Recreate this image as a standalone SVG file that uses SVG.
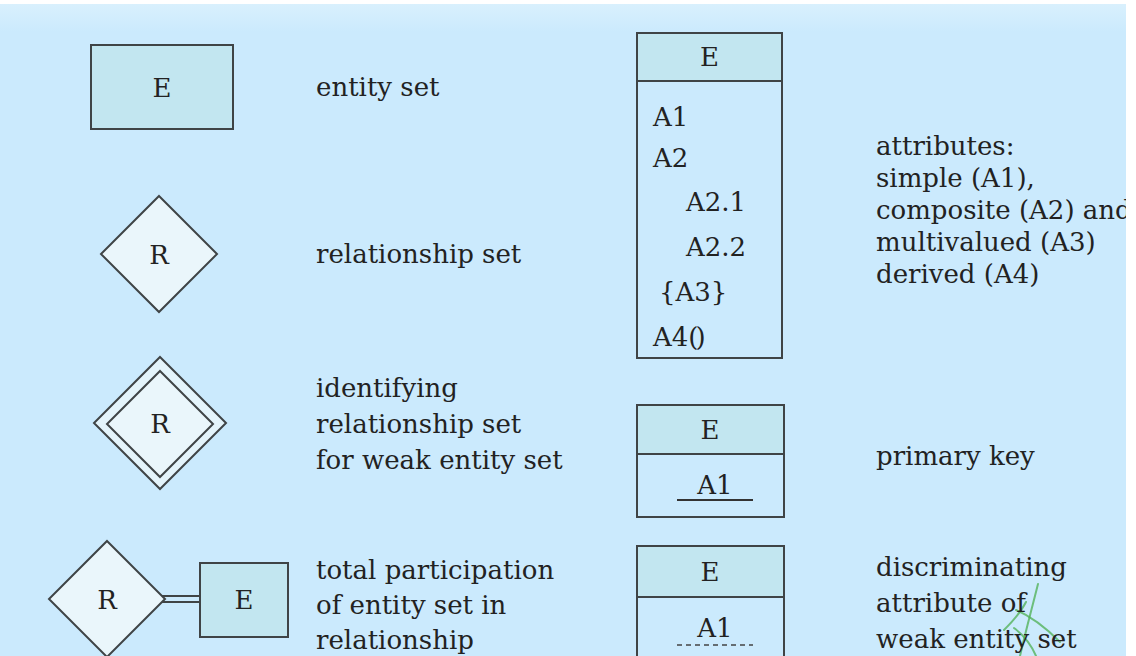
<svg xmlns="http://www.w3.org/2000/svg" width="1136" height="656" viewBox="0 0 1136 656">
<defs>
<linearGradient id="topband" x1="0" y1="0" x2="0" y2="1">
<stop offset="0" stop-color="#d9f0fd"/>
<stop offset="1" stop-color="#cbeafd"/>
</linearGradient>
<style>
text{font-family:"DejaVu Serif","Liberation Serif",serif;font-size:26px;fill:#222}
.c{text-anchor:middle}
.ent{fill:#c2e6f0;stroke:#3f4446;stroke-width:2}
.rel{fill:#eaf6fb;stroke:#3f4446;stroke-width:2;stroke-linejoin:miter}
.body{fill:#cbeafd;stroke:#3f4446;stroke-width:2}
.ln{stroke:#3f4446;stroke-width:1.8;fill:none}
</style>
</defs>
<rect x="0" y="0" width="1136" height="656" fill="#ffffff"/>
<rect x="0" y="4" width="1126" height="652" fill="#cbeafd"/>
<rect x="0" y="4" width="1126" height="28" fill="url(#topband)"/>

<g id="entity-set">
<rect class="ent" x="91" y="45" width="142" height="84"/>
<text class="c" x="162" y="97">E</text>
</g>
<text x="316" y="96">entity set</text>

<g id="relationship-set">
<polygon class="rel" points="159,196 217,254 159,312 101,254"/>
<text class="c" x="159" y="264">R</text>
</g>
<text x="316" y="263">relationship set</text>

<g id="identifying-relationship">
<polygon points="160,357 226,423 160,489 94,423" fill="#e4f4fb" stroke="#3f4446" stroke-width="2"/>
<polygon points="160,371 213,424 160,477 107,424" fill="#eaf6fb" stroke="#3f4446" stroke-width="2"/>
<text class="c" x="160" y="433">R</text>
</g>
<text x="316" y="397">identifying</text>
<text x="316" y="433">relationship set</text>
<text x="316" y="469">for weak entity set</text>

<g id="total-participation-R">
<polygon class="rel" points="107,541 165,599 107,657 49,599"/>
<text class="c" x="107" y="609">R</text>
</g>
<g id="total-participation-E">
<rect class="ent" x="200" y="563" width="88" height="74"/>
<text class="c" x="244" y="609">E</text>
</g>
<g id="connectors">
<line class="ln" x1="162" y1="596" x2="200" y2="596"/>
<line class="ln" x1="162" y1="602" x2="200" y2="602"/>
</g>
<text x="316" y="579">total participation</text>
<text x="316" y="614">of entity set in</text>
<text x="316" y="649">relationship</text>

<g id="attributes-entity">
<rect class="body" x="637" y="81" width="145" height="277"/>
<rect class="ent" x="637" y="33" width="145" height="48"/>
<text class="c" x="709.5" y="66">E</text>
<text x="653" y="126">A1</text>
<text x="653" y="167">A2</text>
<text x="686" y="211">A2.1</text>
<text x="686" y="256">A2.2</text>
<text x="659" y="301">{A3}</text>
<text x="653" y="346">A4<tspan letter-spacing="-3">()</tspan></text>
</g>
<text x="876" y="155">attributes:</text>
<text x="876" y="187">simple (A1),</text>
<text x="876" y="219">composite (A2) and</text>
<text x="876" y="251">multivalued (A3)</text>
<text x="876" y="283">derived (A4)</text>
<rect x="1126" y="0" width="10" height="656" fill="#ffffff"/>

<g id="primary-key-entity">
<rect class="body" x="637" y="454" width="147" height="63"/>
<rect class="ent" x="637" y="405" width="147" height="49"/>
<text class="c" x="710" y="439">E</text>
<text class="c" x="715" y="494">A1</text>
<line x1="677" y1="500" x2="753" y2="500" stroke="#333" stroke-width="2"/>
</g>
<text x="876" y="465">primary key</text>

<g id="discriminator-entity">
<rect class="body" x="637" y="597" width="147" height="70"/>
<rect class="ent" x="637" y="546" width="147" height="51"/>
<text class="c" x="710" y="581">E</text>
<text class="c" x="715" y="637">A1</text>
<line x1="677" y1="645" x2="753" y2="645" stroke="#444" stroke-width="1.6" stroke-dasharray="5,4"/>
</g>
<g id="sprig" fill="none" stroke="#4caf50" stroke-opacity="0.75" stroke-width="2" stroke-linecap="round">
<path d="M1038,584 C1032,608 1026,630 1020,656"/>
<path d="M1016,610 C1030,616 1044,626 1060,642"/>
<path d="M1014,628 C1022,634 1030,642 1036,656"/>
<path d="M1026,602 C1020,614 1012,622 1004,630"/>
</g>
<text x="876" y="576">discriminating</text>
<text x="876" y="612">attribute of</text>
<text x="876" y="648">weak entity set</text>
</svg>
